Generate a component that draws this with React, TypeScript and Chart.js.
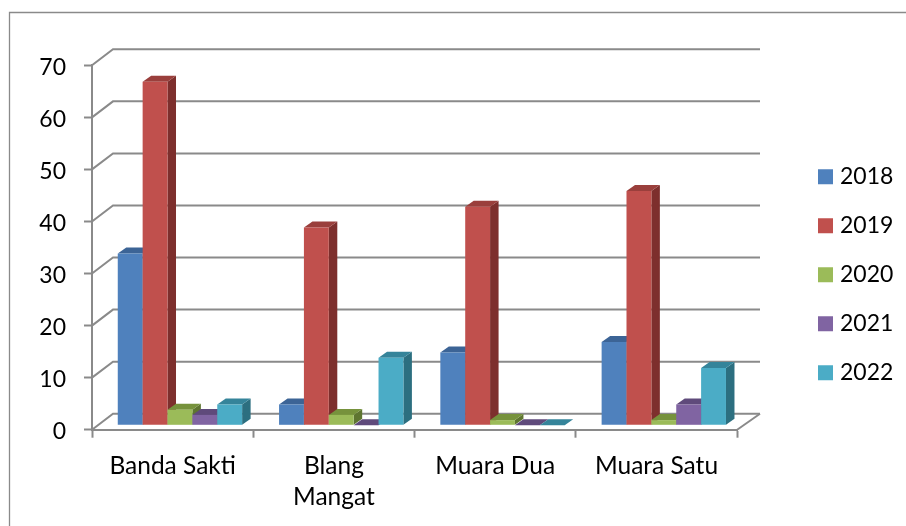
import React, { useEffect, useRef } from "react";
import { Chart, registerables } from "chart.js";

Chart.register(...registerables);

const categories = ["Banda Sakti", ["Blang", "Mangat"], "Muara Dua", "Muara Satu"];
const years = ["2018", "2019", "2020", "2021", "2022"];
const v2018 = [33, 4, 14, 16];
const v2019 = [66, 38, 42, 45];
const v2020 = [3, 2, 1, 1];
const v2021 = [2, 0, 0, 4];
const v2022 = [4, 13, 0, 11];
const yTicks = [0, 10, 20, 30, 40, 50, 60, 70];

const front = ["#4F81BD", "#C0504D", "#9BBB59", "#8064A2", "#4BACC6"];
const top = ["#3C6496", "#9A3F3C", "#76923C", "#5F4A7B", "#35849A"];
const side = ["#2F4F78", "#7D2F2D", "#5E7530", "#4A3A60", "#2C6F80"];

const GRID = "#8A8A8A";
const FONT = "Lato, Carlito, sans-serif";
const SHIFT_X = 7.3;
const SHIFT_Y = -4.4;
const DX = 21;
const DY = 16;
const BAR_DX = 8.5;
const BAR_DY = 6;
const legendOffset = -21;

const poly = (ctx: CanvasRenderingContext2D, pts: number[][], fill: string) => {
  ctx.beginPath();
  pts.forEach((p, i) => (i ? ctx.lineTo(p[0], p[1]) : ctx.moveTo(p[0], p[1])));
  ctx.closePath();
  ctx.fillStyle = fill;
  ctx.fill();
};

const box3d = {
  id: "box3d",
  beforeDraw(chart: any) {
    const { ctx, width, height } = chart;
    ctx.save();
    ctx.strokeStyle = GRID;
    ctx.lineWidth = 1.3;
    ctx.beginPath();
    ctx.moveTo(9.5, height);
    ctx.lineTo(9.5, 12.5);
    ctx.lineTo(width, 12.5);
    ctx.stroke();
    ctx.restore();
  },
  afterLayout(chart: any) {
    const lg = chart.legend;
    const w = lg.right - lg.left;
    lg.left = 796.5;
    lg.right = 796.5 + w;
    lg.top += legendOffset;
    lg.bottom += legendOffset;
  },
  beforeDatasetsDraw(chart: any) {
    const { ctx, chartArea, scales } = chart;
    const a = chartArea;
    ctx.save();
    ctx.strokeStyle = GRID;
    ctx.lineWidth = 2;
    for (const t of yTicks) {
      const y = scales.y.getPixelForValue(t);
      ctx.beginPath();
      ctx.moveTo(a.left, y);
      ctx.lineTo(a.left + DX, y - DY);
      ctx.lineTo(760, y - DY);
      ctx.stroke();
    }
    const y0 = scales.y.getPixelForValue(0);
    ctx.beginPath();
    ctx.moveTo(a.right, y0);
    ctx.lineTo(760, y0 - DY);
    ctx.stroke();
    ctx.restore();

    // Painter's order: left-to-right, so each bar's front hides its neighbour's side.
    ctx.save();
    ctx.translate(SHIFT_X, SHIFT_Y);
    years.forEach((_, i) => {
      const meta = chart.getDatasetMeta(i);
      for (const bar of meta.data) {
        const { x, y, base, width } = bar.getProps(["x", "y", "base", "width"], true);
        const l = x - width / 2;
        const r = x + width / 2;
        if (base - y > 0) {
          poly(ctx, [[r, y], [r + BAR_DX, y - BAR_DY], [r + BAR_DX, base - BAR_DY], [r, base]], side[i]);
        }
        poly(ctx, [[l, y], [l + BAR_DX, y - BAR_DY], [r + BAR_DX, y - BAR_DY], [r, y]], top[i]);
      }
      meta.controller.draw();
    });
    ctx.restore();
    return false;
  },
};

export default function App() {
  const ref = useRef<HTMLCanvasElement>(null);
  useEffect(() => {
    document.body.style.margin = "0";
    document.body.style.background = "#fff";
    const series = [v2018, v2019, v2020, v2021, v2022];
    const chart = new Chart(ref.current as HTMLCanvasElement, {
      type: "bar",
      data: {
        labels: categories as any,
        datasets: years.map((y, i) => ({
          label: y,
          data: series[i],
          backgroundColor: front[i],
          borderWidth: 0,
          categoryPercentage: 0.771,
          barPercentage: 1,
          clip: false as any,
        })),
      },
      options: {
        responsive: false,
        animation: false,
        devicePixelRatio: 1,
        layout: { padding: { top: 65.3, right: 62, left: 0, bottom: 0 } },
        plugins: {
          tooltip: { enabled: false },
          legend: {
            position: "right",
            onClick: () => {},
            labels: {
              usePointStyle: true,
              pointStyle: "rect",
              boxWidth: 6,
              boxHeight: 15,
              padding: 26,
              color: "#000",
              font: { family: FONT, size: 23 },
            },
          },
        },
        scales: {
          x: {
            afterFit: (s: any) => {
              s.height = 526 - 429.7;
            },
            grid: {
              display: true,
              drawOnChartArea: false,
              drawTicks: true,
              tickLength: 8,
              tickWidth: 2,
              tickColor: GRID,
            },
            border: { display: true, color: GRID, width: 2 },
            ticks: {
              autoSkip: false,
              maxRotation: 0,
              minRotation: 0,
              padding: 12,
              color: "#000",
              font: { family: FONT, size: 24.5, lineHeight: 1.3 },
            },
          },
          y: {
            min: 0,
            max: 70,
            afterFit: (s: any) => {
              s.width = 92;
            },
            afterBuildTicks: (s: any) => {
              s.ticks = yTicks.map((value) => ({ value }));
            },
            grid: {
              display: true,
              drawOnChartArea: false,
              drawTicks: true,
              tickLength: 8,
              tickWidth: 2,
              tickColor: GRID,
            },
            border: { display: true, color: GRID, width: 2 },
            ticks: {
              padding: 18,
              labelOffset: 2,
              color: "#000",
              font: { family: FONT, size: 23 },
            },
          },
        },
      },
      plugins: [box3d],
    });
    return () => chart.destroy();
  }, []);
  return (
    <div style={{ position: "absolute", left: 0, top: 0, width: 906, height: 526 }}>
      <canvas ref={ref} width={906} height={526} style={{ display: "block" }} />
    </div>
  );
}
